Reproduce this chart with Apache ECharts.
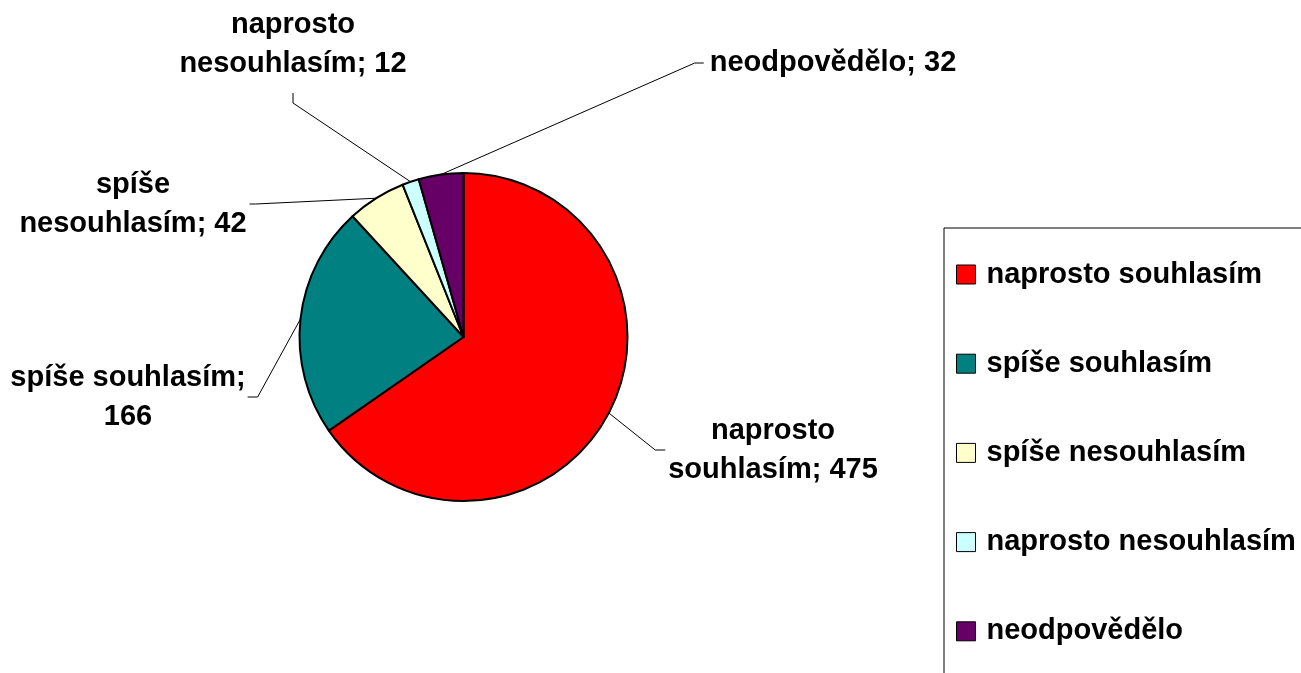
<!DOCTYPE html>
<html>
<head>
<meta charset="utf-8">
<script src="https://cdn.jsdelivr.net/npm/echarts@6/dist/echarts.min.js"></script>
<style>
  html, body { margin: 0; padding: 0; background: #fff; }
  #chart { width: 1301px; height: 673px; }
</style>
</head>
<body>
<div id="chart"></div>
<script>
  // data
  const names = ['naprosto souhlasím', 'spíše souhlasím', 'spíše nesouhlasím', 'naprosto nesouhlasím', 'neodpovědělo'];
  const values = [475, 166, 42, 12, 32];
  const colors = ['#FF0000', '#008080', '#FFFFCC', '#CCFFFF', '#660066'];
  // where the label text wraps: after first word / before value / none
  const labelWrap = ['word', 'value', 'word', 'word', 'none'];

  // label placement (center x, y, side of the leader line, gap, segment)
  const labelPos = [
    [773, 450, 'left', 3, 10],
    [128, 397, 'right', 2, 10],
    [133, 204, 'right', 3, 6],
    [293, 44, 'bottom', 10, 10],
    [833, 63, 'left', 6, 9]
  ];

  const font = "'Liberation Sans', Arial, sans-serif";
  const chart = echarts.init(document.getElementById('chart'));

  function fmt(p) {
    const w = labelWrap[p.dataIndex];
    if (w === 'word') {
      const i = p.name.indexOf(' ');
      return p.name.slice(0, i) + '\n' + p.name.slice(i + 1) + '; ' + p.value;
    }
    if (w === 'value') return p.name + ';\n' + p.value;
    return p.name + '; ' + p.value;
  }

  const option = {
    backgroundColor: '#fff',
    animation: false,
    color: colors,
    legend: {
      orient: 'vertical',
      left: 944,
      top: 228,
      height: 700,
      padding: [32, 40, 60, 12],
      itemGap: 60.2,
      itemWidth: 19,
      itemHeight: 19,
      icon: 'rect',
      borderColor: '#000',
      borderWidth: 1,
      itemStyle: { borderColor: '#000', borderWidth: 1 },
      textStyle: {
        fontFamily: font, fontWeight: 'bold', fontSize: 29, lineHeight: 28,
        color: '#000', padding: [0, 0, 0, 6]
      },
      data: names
    },
    series: [{
      type: 'pie',
      center: [463.5, 337],
      radius: 164,
      startAngle: 90,
      clockwise: true,
      avoidLabelOverlap: false,
      itemStyle: { borderColor: '#000', borderWidth: 2 },
      emphasis: { disabled: true },
      label: {
        show: true,
        formatter: fmt,
        fontFamily: font, fontWeight: 'bold', fontSize: 29, lineHeight: 39,
        color: '#000', align: 'center'
      },
      labelLine: {
        show: true, length: 20, length2: 10, smooth: false,
        lineStyle: { color: '#000', width: 1 }
      },
      labelLayout: function (params) {
        const lp = labelPos[params.dataIndex];
        const w = params.labelRect.width, h = params.labelRect.height;
        const cx = lp[0], cy = lp[1], gap = lp[3], seg = lp[4];
        let a, b;
        if (lp[2] === 'left') {
          a = [cx - w / 2 - gap, cy];
          b = [a[0] - seg, cy];
        } else if (lp[2] === 'right') {
          a = [cx + w / 2 + gap, cy];
          b = [a[0] + seg, cy];
        } else {
          a = [cx, cy + h / 2 + gap];
          b = [cx, a[1] + seg];
        }
        return {
          x: cx, y: cy, align: 'center', verticalAlign: 'middle',
          labelLinePoints: [params.labelLinePoints[0], b, a]
        };
      },
      data: names.map((n, i) => ({ name: n, value: values[i] }))
    }]
  };
  chart.setOption(option);
</script>
</body>
</html>
